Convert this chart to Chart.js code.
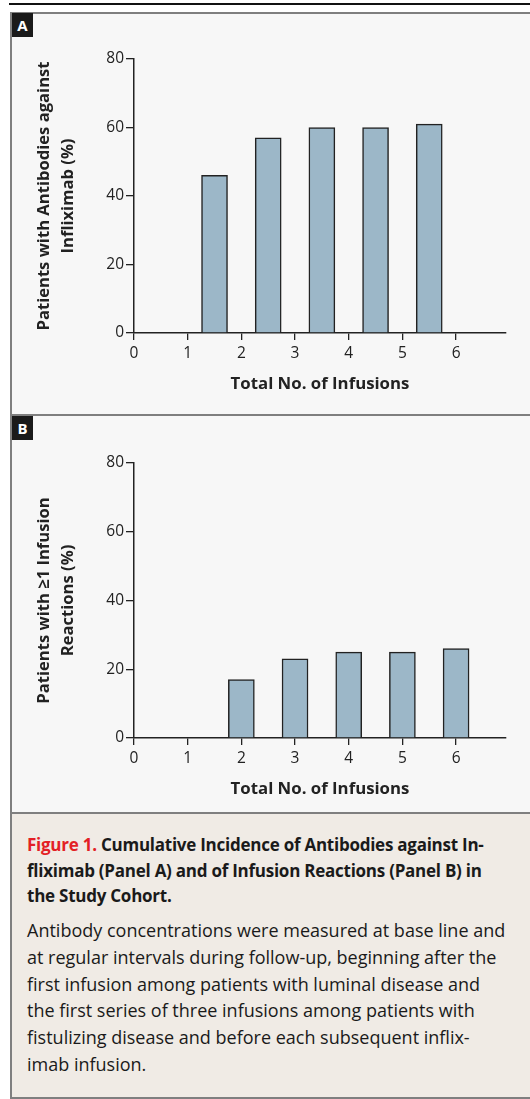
<!DOCTYPE html>
<html>
<head>
<meta charset="utf-8">
<script src="https://cdn.jsdelivr.net/npm/chart.js@4.4.1/dist/chart.umd.min.js"></script>
<style>
  html, body { margin: 0; padding: 0; background: #fff; }
  body { width: 530px; height: 1099px; position: relative; overflow: hidden; font-family: "Open Sans", sans-serif; color: #222; }
  #rule { position: absolute; left: 9px; top: 3px; width: 521px; height: 2px; background: #111; }
  #frame { position: absolute; left: 10px; top: 12px; width: 540px; height: 1087px; box-sizing: border-box;
           border: 2px solid #7f7f7f; border-right: none; background: #f7f7f7; }
  .sep { position: absolute; left: 12px; width: 530px; height: 2px; background: #7f7f7f; }
  #caption { position: absolute; left: 12px; top: 814px; width: 530px; height: 283px; background: #f0ebe5; }
  .tag { position: absolute; left: 12px; width: 21px; height: 24px; background: #1a1a1a; color: #fff;
         font-weight: bold; font-size: 15px; line-height: 24px; text-align: center; }
  canvas { position: absolute; left: 12px; }
  #capTitle { position: absolute; left: 15px; top: 18px; font-size: 17px; font-weight: bold; line-height: 25.5px;
              white-space: nowrap; color: #1a1a1a; letter-spacing: -0.25px; }
  #capTitle .red { color: #e31f26; }
  #capBody { position: absolute; left: 15px; top: 103px; font-size: 18px; line-height: 26.8px; white-space: nowrap;
             color: #1a1a1a; letter-spacing: 0; }
</style>
</head>
<body>
<div id="rule"></div>
<div id="frame"></div>
<div class="tag" style="top:13px">A</div>
<canvas id="chartA" width="518" height="400" style="top:14px"></canvas>
<div class="sep" style="top:414px"></div>
<div class="tag" style="top:416px">B</div>
<canvas id="chartB" width="518" height="396" style="top:416px"></canvas>
<div class="sep" style="top:812px"></div>
<div id="caption">
  <div id="capTitle"><span class="red">Figure 1.</span> Cumulative Incidence of Antibodies against In-<br>fliximab (Panel A) and of Infusion Reactions (Panel B) in<br>the Study Cohort.</div>
  <div id="capBody">Antibody concentrations were measured at base line and<br>at regular intervals during follow-up, beginning after the<br>first infusion among patients with luminal disease and<br>the first series of three infusions among patients with<br>fistulizing disease and before each subsequent inflix-<br>imab infusion.</div>
</div>
<script>
  // data
  var xTicks = [0, 1, 2, 3, 4, 5, 6];
  var yTicks = [0, 20, 40, 60, 80];
  var infusionsA = [1.5, 2.5, 3.5, 4.5, 5.5];   // panel A bars sit between the ticks
  var antibodyPct = [46, 57, 60, 60, 61];
  var infusionsB = [2, 3, 4, 5, 6];
  var reactionPct = [17, 23, 25, 25, 26];
  var titleA = ["Patients with Antibodies against", "Infliximab (%)"];
  var titleB = ["Patients with \u22651 Infusion", "Reactions (%)"];
  var xTitle = "Total No. of Infusions";

  var FONT = "'Open Sans', sans-serif";
  var INK = "#222";

  function makePanel(id, xs, ys, yTitle, lay) {
    var points = xs.map(function (x, i) { return { x: x, y: ys[i] }; });
    return new Chart(document.getElementById(id), {
      type: "bar",
      data: {
        datasets: [{
          data: points,
          backgroundColor: "#9cb7c8",
          borderColor: "#222",
          borderWidth: 1.5,
          barThickness: 26
        }]
      },
      options: {
        responsive: false,
        animation: false,
        layout: { padding: { top: lay.top, right: 24, left: 0, bottom: 0 } },
        plugins: { legend: { display: false }, tooltip: { enabled: false } },
        scales: {
          x: {
            type: "linear",
            offset: false,
            min: 0,
            max: 6.93,
            afterBuildTicks: function (s) { s.ticks = xTicks.map(function (v) { return { value: v }; }); },
            afterFit: function (s) { s.height = lay.xh; },
            grid: { offset: false, drawOnChartArea: false, color: INK, lineWidth: 1.3, tickLength: 7 },
            border: { color: INK, width: 1.5 },
            ticks: { color: INK, font: { family: FONT, size: 15.5 }, padding: 4, maxRotation: 0 },
            title: { display: true, text: xTitle, color: INK,
                     font: { family: FONT, size: 16.8, weight: "bold" }, padding: { top: 0, bottom: lay.tb } }
          },
          y: {
            min: 0,
            max: 80,
            afterBuildTicks: function (s) { s.ticks = yTicks.map(function (v) { return { value: v }; }); },
            afterFit: function (s) { s.width = 122; },
            grid: { drawOnChartArea: false, color: INK, lineWidth: 1.3, tickLength: 8 },
            border: { color: INK, width: 1.5 },
            ticks: { color: INK, font: { family: FONT, size: 15.5 }, padding: 2 },
            title: { display: true, text: yTitle, color: INK,
                     font: { family: FONT, size: 16.6, weight: "bold", lineHeight: 1.45 }, padding: { top: 20, bottom: 0 } }
          }
        }
      }
    });
  }

  makePanel("chartA", infusionsA, antibodyPct, titleA, { top: 45, xh: 81, tb: 20 });
  makePanel("chartB", infusionsB, reactionPct, titleB, { top: 47, xh: 74, tb: 13 });
</script>
</body>
</html>
